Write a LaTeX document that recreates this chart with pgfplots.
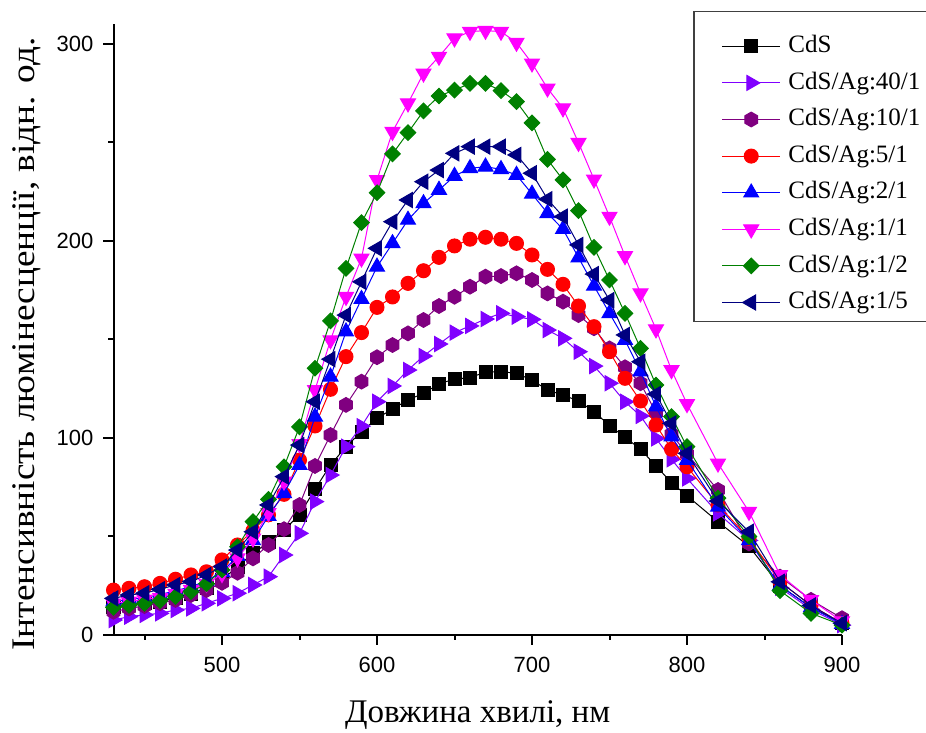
\documentclass[border=0pt]{standalone}
\usepackage{fontspec}
\setmainfont{Liberation Serif}
\newfontfamily\arialfont{Liberation Sans}
\newfontfamily\ylabfont[FakeStretch=1.13]{Liberation Serif}
\usepackage{pgfplots}
\pgfplotsset{compat=1.18}
\usepackage{pgfplotstable}

\pgfdeclareplotmark{hexagon*}{%
  \pgfpathmoveto{\pgfpointpolar{90}{\pgfplotmarksize}}%
  \pgfpathlineto{\pgfpointpolar{150}{\pgfplotmarksize}}%
  \pgfpathlineto{\pgfpointpolar{210}{\pgfplotmarksize}}%
  \pgfpathlineto{\pgfpointpolar{270}{\pgfplotmarksize}}%
  \pgfpathlineto{\pgfpointpolar{330}{\pgfplotmarksize}}%
  \pgfpathlineto{\pgfpointpolar{30}{\pgfplotmarksize}}%
  \pgfpathclose
  \pgfusepathqfillstroke}

\definecolor{cviolet}{RGB}{128,0,255}
\definecolor{cpurple}{RGB}{128,0,128}
\definecolor{cred}{RGB}{255,0,0}
\definecolor{cblue}{RGB}{0,0,255}
\definecolor{cmag}{RGB}{255,0,255}
\definecolor{cgreen}{RGB}{0,128,0}
\definecolor{cnavy}{RGB}{0,0,128}

\pgfplotstableread{
x   CdS   A40   A10   A5    A2    A1    A12   A15
430 14    7.6   11.8  22.8  17    16    14    18.6
440 15    9.3   13.5  23.7  18    17    15    20.3
450 16    10.2  14.7  24.5  19    18    16    21.2
460 17    11    16.1  26.2  20.5  19    17.5  23.2
470 19    12.7  17.8  28.3  22.5  21    19.5  25.4
480 21    13.5  20.3  30.5  24.5  23    22    27.1
490 24    16.1  22.8  32.1  27.5  26    26    30.5
500 28    18.6  26.5  38.1  32    31    33    34.7
510 34.7  21.2  31.6  45.7  40    39    44.8  43.1
520 41.5  25.4  38.9  53    48    49    57.5  52.4
530 47    29.6  45.7  61    60.4  62    68.9  66
540 53.3  40.6  53.7  71.4  71.9  78    85.4  80.4
550 61    51.6  66    88.8  86.3  97    105.7 96.4
560 74    67.7  85.8  106.1 110.8 124.4 135.4 118.4
570 86.3  81.2  101.5 124.7 131.1 149.7 159.5 140
580 95.6  95.6  116.8 141.3 154   171.7 186.1 162.4
590 103.2 106   128.6 153.5 170.5 191.2 209.3 179.3
600 110   118.4 141   166.3 186.9 231   224.5 196.3
610 114.7 126.4 147.2 171.6 198.8 255.5 244.2 209.8
620 119.3 134.5 153.1 178.5 210.7 269.9 255   220.8
630 122.7 141.6 159.9 184.9 219.1 285.1 266   230.1
640 127.4 147.7 167   191.7 225.9 293.6 273.6 236
650 130   153.5 171.7 197.5 233   302.9 276.6 244.5
660 130.6 156.9 176.8 200.9 236.9 306.3 280   247.9
670 133.5 160.4 181.9 201.9 237.7 306.8 280   247.9
680 133.7 163.3 182.2 200.9 236.4 306.3 276.3 247.9
690 132.8 161.6 183.6 198.8 233.5 300.7 270.7 243.7
700 129.4 160.2 180.2 192.9 223.9 290.2 260   234.4
710 124.4 154.8 173.4 185.6 214.1 277.5 241.4 221.2
720 121.8 150.6 169.2 178   206   267.4 231   212.4
730 118.8 143.8 162.4 167   191.6 249.9 215.4 198
740 113.4 136.5 155.7 156.5 177.2 231.3 196.8 183.2
750 106.3 127.8 145.5 143.8 163.3 212.4 180.2 170
760 100.4 118.4 135.9 130.3 149.7 192.4 163.3 152.3
770 94.3  111.2 127.8 118.8 133.7 173.5 145.5 138.7
780 85.8  99.8  112.8 106.6 115.9 155.2 126.9 122.3
790 77.3  89.2  101.9 94.3  100.7 134.5 110.8 107.4
800 70.7  79.5  91.9  85.4  88.8  117.3 95.6  92.2
820 57.5  61.8  73.6  66    65    87.1  69.5  68
840 45    48    46.5  49    48    62.6  50    52.4
860 25    24    29.6  27    25    30.5  22.5  27
880 14    13    17.8  15    14    17.8  11    15
900 6     5     8.5   6     5.5   7     5     6
}\datatable

\begin{document}
\begin{tikzpicture}
\useasboundingbox (0,0) rectangle (463pt,366.5pt);
\begin{axis}[
  at={(56.75pt,49pt)}, anchor=south west,
  scale only axis, width=364.25pt, height=305.35pt,
  xmin=430, xmax=900, ymin=0, ymax=310,
  axis lines*=left,
  axis line style={line width=1pt, black},
  xtick={500,600,700,800,900}, minor xtick={450,550,650,750,850},
  ytick={0,100,200,300}, minor ytick={50,150,250},
  tick align=outside,
  major tick length=5pt, minor tick length=2.5pt,
  every tick/.style={black, line width=1pt},
  tick label style={font=\arialfont\fontsize{11}{13}\selectfont},
  xticklabel style={yshift=-2.5pt},
  yticklabel style={xshift=-1.5pt},
  /pgf/number format/assume math mode=true,
  xlabel={Довжина хвилі, нм},
  ylabel={Інтенсивність люмінесценції, відн. од.},
  xlabel style={font=\fontsize{16.5}{19}\selectfont, at={(axis description cs:0.5,-0.131)}, anchor=center},
  ylabel style={font=\ylabfont\fontsize{16.5}{19}\selectfont, at={(axis description cs:-0.1187,0.4765)}, anchor=center},
  clip mode=individual,
  legend style={draw=none, fill=none, at={(axis description cs:0.8349,0.9833)}, anchor=north west,
    inner sep=0pt, outer sep=0pt, font=\fontsize{12.5}{15}\selectfont,
    row sep=6.5pt, column sep=3.85pt,
    nodes={inner sep=0pt, text height=9pt, text depth=2.8pt}},
  legend cell align=left,
  legend image code/.code={\draw[mark repeat=2,mark phase=2] plot coordinates {(0pt,0pt)(14.5pt,0pt)(29pt,0pt)};},
]
\draw[line width=0.75pt, black!75, fill=white] (axis description cs:0.7968,1.0206) rectangle (axis description cs:1.1167,0.5130);
\draw[line width=1pt, black] (axis description cs:-0.0125,0) -- (axis description cs:0,0);
\addplot[color=black, line width=0.5pt, mark=square*, mark size=3.25pt] table[x=x,y=CdS] {\datatable};
\addlegendentry{CdS}
\addplot[color=cviolet, line width=0.5pt, mark=triangle*, mark size=4.3pt, mark options={rotate=-90}] table[x=x,y=A40] {\datatable};
\addlegendentry{CdS/Ag:40/1}
\addplot[color=cpurple, line width=0.5pt, mark=hexagon*, mark size=3.7pt] table[x=x,y=A10] {\datatable};
\addlegendentry{CdS/Ag:10/1}
\addplot[color=cred, line width=0.5pt, mark=*, mark size=3.5pt] table[x=x,y=A5] {\datatable};
\addlegendentry{CdS/Ag:5/1}
\addplot[color=cblue, line width=0.5pt, mark=triangle*, mark size=4.3pt] table[x=x,y=A2] {\datatable};
\addlegendentry{CdS/Ag:2/1}
\addplot[color=cmag, line width=0.5pt, mark=triangle*, mark size=4.3pt, mark options={rotate=180}] table[x=x,y=A1] {\datatable};
\addlegendentry{CdS/Ag:1/1}
\addplot[color=cgreen, line width=0.5pt, mark=square*, mark size=2.75pt, mark options={rotate=45}] table[x=x,y=A12] {\datatable};
\addlegendentry{CdS/Ag:1/2}
\addplot[color=cnavy, line width=0.5pt, mark=triangle*, mark size=4.3pt, mark options={rotate=90}] table[x=x,y=A15] {\datatable};
\addlegendentry{CdS/Ag:1/5}
\end{axis}
\end{tikzpicture}
\end{document}
